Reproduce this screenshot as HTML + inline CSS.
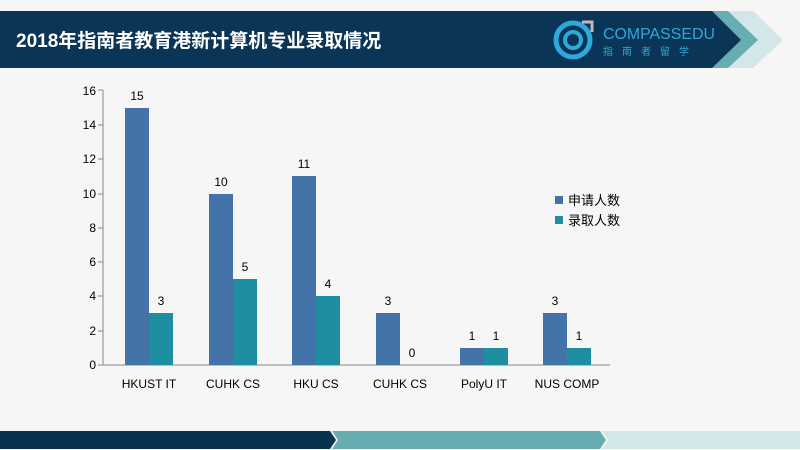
<!DOCTYPE html>
<html><head><meta charset="utf-8"><style>
body{margin:0;width:800px;height:450px;overflow:hidden;background:#f7f7f7;font-family:"Liberation Sans","Noto Sans CJK SC",sans-serif}
</style></head><body>
<svg width="800" height="450" viewBox="0 0 800 450" xmlns="http://www.w3.org/2000/svg" style="position:absolute;left:0;top:0">
<rect x="0" y="0" width="800" height="450" fill="#f6f6f6"/>
<polygon points="713,11 753,11 783,40 753,68 713,68 743,40" fill="#d3e7e9"/>
<polygon points="690,11 728,11 758,40 728,68 690,68 720,40" fill="#67adb1"/>
<polygon points="0,11 712,11 741,40 712,68 0,68" fill="#0a3556"/>
<text x="16" y="47" font-size="19" font-weight="bold" fill="#fff" font-family="Liberation Sans,Noto Sans CJK SC,sans-serif">2018年指南者教育港新计算机专业录取情况</text>
<circle cx="573" cy="40" r="17" fill="none" stroke="#2fa8dc" stroke-width="5"/>
<circle cx="573" cy="40" r="8" fill="none" stroke="#2fa8dc" stroke-width="4"/>
<path d="M582,22 L592,22 L592,32" fill="none" stroke="#bbb" stroke-width="3"/>
<text x="603" y="39" font-size="16" fill="#2fa8dc" textLength="112" lengthAdjust="spacingAndGlyphs">COMPASSEDU</text>
<text x="603" y="55" font-size="10" fill="#2fa8dc" letter-spacing="9">指南者留学</text>
<polygon points="0,431 330,431 336,440 330,449 0,449" fill="#08334f"/>
<polygon points="332,431 600,431 606,440 600,449 332,449 338,440" fill="#66adb1"/>
<polygon points="602,431 800,431 800,449 602,449 608,440" fill="#d3e6e8"/>
<g font-size="12" fill="#000" text-anchor="end">
<line x1="103" y1="90" x2="103" y2="365" stroke="#888"/>
<line x1="103" y1="365" x2="610" y2="365" stroke="#888"/>
<text x="96" y="369">0</text><text x="96" y="335">2</text><text x="96" y="300">4</text><text x="96" y="266">6</text><text x="96" y="232">8</text><text x="96" y="198">10</text><text x="96" y="163">12</text><text x="96" y="129">14</text><text x="96" y="95">16</text>
<g stroke="#888"><line x1="98" y1="365" x2="103" y2="365"/><line x1="98" y1="331" x2="103" y2="331"/><line x1="98" y1="296" x2="103" y2="296"/><line x1="98" y1="262" x2="103" y2="262"/><line x1="98" y1="228" x2="103" y2="228"/><line x1="98" y1="194" x2="103" y2="194"/><line x1="98" y1="159" x2="103" y2="159"/><line x1="98" y1="125" x2="103" y2="125"/><line x1="98" y1="90" x2="103" y2="90"/></g>
</g>
<g>
<rect x="125" y="108" width="24" height="257" fill="#4473a9"/><rect x="149" y="313" width="24" height="52" fill="#1e8fa0"/>
<rect x="209" y="194" width="24" height="171" fill="#4473a9"/><rect x="233" y="279" width="24" height="86" fill="#1e8fa0"/>
<rect x="292" y="176" width="24" height="189" fill="#4473a9"/><rect x="316" y="296" width="24" height="69" fill="#1e8fa0"/>
<rect x="376" y="313" width="24" height="52" fill="#4473a9"/>
<rect x="460" y="348" width="24" height="17" fill="#4473a9"/><rect x="484" y="348" width="24" height="17" fill="#1e8fa0"/>
<rect x="543" y="313" width="24" height="52" fill="#4473a9"/><rect x="567" y="348" width="24" height="17" fill="#1e8fa0"/>
</g>
<g font-size="12" text-anchor="middle" fill="#000">
<text x="137" y="100">15</text><text x="161" y="305">3</text>
<text x="221" y="186">10</text><text x="245" y="271">5</text>
<text x="304" y="168">11</text><text x="328" y="288">4</text>
<text x="388" y="305">3</text><text x="412" y="357">0</text>
<text x="472" y="340">1</text><text x="496" y="340">1</text>
<text x="555" y="305">3</text><text x="579" y="340">1</text>
<text x="149" y="388">HKUST IT</text><text x="233" y="388">CUHK CS</text><text x="316" y="388">HKU CS</text><text x="400" y="388">CUHK CS</text><text x="484" y="388">PolyU IT</text><text x="567" y="388">NUS COMP</text>
</g>
<rect x="555" y="196" width="8" height="8" fill="#4473a9"/><text x="568" y="205" font-size="13">申请人数</text>
<rect x="555" y="216" width="8" height="8" fill="#1e8fa0"/><text x="568" y="225" font-size="13">录取人数</text>
</svg>
</body></html>
